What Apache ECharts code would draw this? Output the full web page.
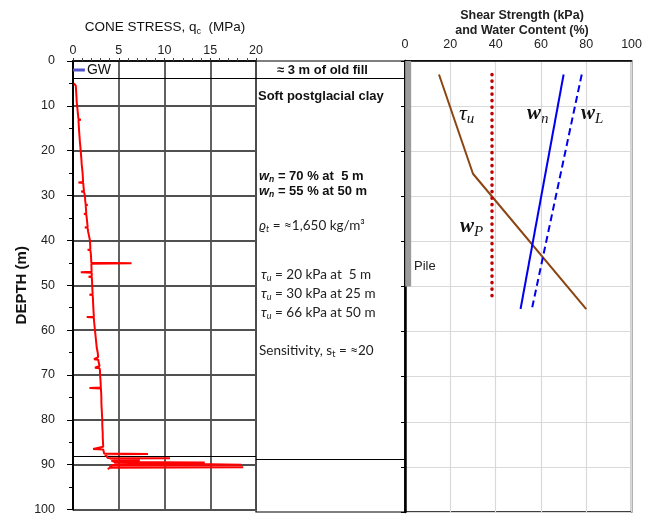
<!DOCTYPE html>
<html><head><meta charset="utf-8">
<script src="https://cdn.jsdelivr.net/npm/echarts@6/dist/echarts.min.js"></script>
<style>html,body{margin:0;padding:0;background:#fff}#c{width:645px;height:516px}</style>
</head><body><div id="c"></div>
<script>
// ---- Cone stress profile (depth m, qc MPa) ----
const cptDepth = [5.0,5.5,6,7,8,9,10,11,12,13,13.1,13.2,14,15,16,17,18,19,20,21,22,23,24,25,26,27,27.1,27.2,28,29,29.1,29.2,30,31,32,32.1,32.2,33,34,34.1,34.2,35,36,37,37.1,37.2,38,39,40,41,42,42.1,42.2,43,44,45,45.1,45.2,46,47,47.1,47.2,48,48.1,48.2,49,50,51,52,52.1,52.2,53,54,55,56,57,57.1,57.2,58,59,60,61,62,63,64,65,66,66.5,66.6,67,68,68.4,68.5,69,70,71,72,72.8,72.9,73.0,74,75,76,77,78,79,80,81,82,83,84,85,86,86.4,86.5,86.6,87,87.5,87.6,87.7,88,88.5,88.6,88.7,88.9,89.0,89.1,89.4,89.5,89.6,89.9,90.0,90.1,90.5,90.6,90.7,91];
const cptQc    = [0.1,0.3,0.32,0.35,0.38,0.4,0.45,0.5,0.55,0.6,0.85,0.6,0.62,0.65,0.68,0.72,0.75,0.8,0.84,0.88,0.92,0.95,1.0,1.05,1.08,1.1,0.6,1.12,1.15,1.2,0.9,1.2,1.3,1.33,1.38,1.6,1.38,1.42,1.45,1.2,1.45,1.5,1.55,1.6,1.3,1.6,1.65,1.75,1.85,1.88,1.9,1.6,1.9,1.95,1.98,2.0,6.4,2.0,2.02,2.03,0.85,2.05,2.05,1.7,2.05,2.08,2.1,2.12,2.15,1.8,2.15,2.18,2.2,2.22,2.25,2.28,1.5,2.28,2.3,2.35,2.4,2.45,2.5,2.55,2.6,2.7,2.75,2.3,2.75,2.8,2.9,2.4,2.9,2.95,2.95,3.0,3.02,3.05,1.8,3.05,3.08,3.1,3.1,3.12,3.15,3.17,3.2,3.2,3.22,3.25,3.25,3.28,3.3,3.3,2.2,3.3,3.35,3.4,8.2,3.5,3.6,3.8,10.6,4.0,4.0,7.3,4.2,4.5,14.4,4.5,4.5,18.4,4.3,4.0,18.6,4.0,3.8];
const gwDepth = 2;
const gwQc = [0, 1.3];
const layerBoundaries = [3.8, 88.2];

// ---- Shear strength & water content profiles ----
const tauDepth = [3, 25, 55];
const tauVal   = [15, 30, 80];
const wnDepth  = [3, 55];
const wnVal    = [70, 51];
const wLDepth  = [3, 55];
const wLVal    = [78, 56];
const wPDepth  = [3, 53.3];
const wPVal    = [38.4, 38.4];
const pileDepth = [0, 50];
const pileX = 1.4;

// ---- axis ticks ----
const qcRange = [0, 20], qcStep = 5;
const swRange = [0, 100], swStep = 20;
const depthRange = [0, 100], depthStep = 10;

const chart = echarts.init(document.getElementById('c'));
const pair = (xs, ys) => xs.map((x, i) => [x, ys[i]]);

const TOP = 61, H = 451;
const mk = (vals) => ({
  symbol: 'none', silent: true, label: {show: false},
  lineStyle: {color: '#000', width: 1, type: 'solid'},
  data: vals.map(v => ({yAxis: v}))
});

function txt(x, y, text, rich, extra) {
  return Object.assign({
    type: 'text', x: x, y: y, silent: true,
    style: Object.assign({text: text, rich: rich || {}, fill: '#222', fontSize: 12,
      fontFamily: 'Liberation Sans, Arial', textVerticalAlign: 'middle'}, extra || {})
  });
}
const bold = {fontFamily: 'Liberation Sans', fontWeight: 'bold', fontSize: 13, fill: '#111', lineHeight: 16, verticalAlign: 'middle'};
const boldIt = {fontFamily: 'Liberation Sans', fontWeight: 'bold', fontStyle: 'italic', fontSize: 13, fill: '#111', lineHeight: 16, verticalAlign: 'middle'};
const subB = {fontFamily: 'Liberation Sans', fontWeight: 'bold', fontStyle: 'italic', fontSize: 8.5, fill: '#111', lineHeight: 16, verticalAlign: 'bottom'};
const reg = {fontFamily: 'Lato, DejaVu Sans', fontSize: 13.5, fill: '#222', lineHeight: 16, verticalAlign: 'middle'};
const regIt = {fontFamily: 'Lato, DejaVu Sans', fontStyle: 'italic', fontSize: 13.5, fill: '#222', lineHeight: 16, verticalAlign: 'middle'};
const subR = {fontFamily: 'Lato, DejaVu Sans', fontStyle: 'italic', fontSize: 9, fill: '#222', lineHeight: 16, verticalAlign: 'bottom'};
const subRn = {fontFamily: 'Lato, DejaVu Sans', fontSize: 9, fill: '#222', lineHeight: 16, verticalAlign: 'bottom'};

const serifBig = {fontFamily: 'Liberation Serif, DejaVu Serif', fontStyle: 'italic', fontSize: 22, fill: '#111', lineHeight: 26, verticalAlign: 'middle'};
const serifW = {fontFamily: 'Liberation Serif, DejaVu Serif', fontStyle: 'italic', fontWeight: 'bold', fontSize: 21, fill: '#111', lineHeight: 26, verticalAlign: 'middle'};
const serifSub = {fontFamily: 'Liberation Serif, DejaVu Serif', fontStyle: 'italic', fontSize: 15, fill: '#111', lineHeight: 26, verticalAlign: 'bottom'};

const option = {
  backgroundColor: '#fff',
  animation: false,
  grid: [
    {left: 73, top: TOP, width: 183, height: H, show: true, borderColor: '#000', borderWidth: 1.2, backgroundColor: 'transparent'},
    {left: 256, top: TOP, width: 149, height: H, show: true, borderColor: '#000', borderWidth: 1.2, backgroundColor: 'transparent'},
    {left: 405, top: TOP, width: 229, height: H, show: true, borderColor: '#000', borderWidth: 1.5, backgroundColor: 'transparent'}
  ],
  xAxis: [
    {gridIndex: 0, type: 'value', position: 'top', min: qcRange[0], max: qcRange[1], interval: qcStep,
     axisLine: {show: true, lineStyle: {color: '#000', width: 1.5}},
     axisTick: {show: true, length: 3, inside: false, lineStyle: {color: '#333'}},
     minorTick: {show: true, splitNumber: 5, length: 3, lineStyle: {color: '#444'}},
     axisLabel: {fontSize: 12.5, color: '#222', margin: 4, fontFamily: 'Liberation Sans, Arial'},
     splitLine: {show: true, lineStyle: {color: '#505050', width: 1.8}}},
    {gridIndex: 1, type: 'value', min: 0, max: 1, show: false},
    {gridIndex: 2, type: 'value', position: 'top', min: swRange[0], max: swRange[1], interval: swStep,
     axisLine: {show: true, lineStyle: {color: '#000', width: 1.5}},
     axisTick: {show: false},
     axisLabel: {fontSize: 12.5, color: '#222', margin: 10, fontFamily: 'Liberation Sans, Arial'},
     splitLine: {show: true, lineStyle: {color: '#d9d9d9', width: 1.2}}}
  ],
  yAxis: [
    {gridIndex: 0, type: 'value', inverse: true, min: depthRange[0], max: depthRange[1], interval: depthStep,
     name: 'DEPTH (m)', nameLocation: 'middle', nameRotate: 90, nameGap: 44,
     nameTextStyle: {fontSize: 15, fontWeight: 'bold', color: '#111', fontFamily: 'Liberation Sans, Arial'},
     axisLine: {show: true, lineStyle: {color: '#000', width: 2}},
     axisTick: {show: true, length: 6, lineStyle: {color: '#000'}},
     minorTick: {show: true, splitNumber: 2, length: 4, lineStyle: {color: '#000'}},
     axisLabel: {fontSize: 12.5, color: '#222', margin: 18, fontFamily: 'Liberation Sans, Arial'},
     splitLine: {show: true, lineStyle: {color: '#505050', width: 1.8}}},
    {gridIndex: 1, type: 'value', inverse: true, min: depthRange[0], max: depthRange[1], show: false},
    {gridIndex: 2, type: 'value', inverse: true, min: depthRange[0], max: depthRange[1], interval: depthStep,
     axisLine: {show: true, lineStyle: {color: '#000', width: 2.5}},
     axisTick: {show: true, length: 4, lineStyle: {color: '#000'}},
     axisLabel: {show: false},
     splitLine: {show: true, lineStyle: {color: '#d9d9d9', width: 1.2}}}
  ],
  series: [
    {type: 'line', xAxisIndex: 0, yAxisIndex: 0, showSymbol: false, symbol: 'none',
     data: pair(cptQc, cptDepth), lineStyle: {color: '#ff0000', width: 2}, z: 5,
     markLine: mk(layerBoundaries)},
    {type: 'line', xAxisIndex: 0, yAxisIndex: 0, symbol: 'none',
     data: gwQc.map(q => [q, gwDepth]), lineStyle: {color: '#5050c8', width: 3}, z: 6,
     endLabel: {show: true, formatter: 'GW', fontSize: 14, color: '#111', distance: 2, fontFamily: 'Liberation Sans, Arial'}},
    {type: 'line', xAxisIndex: 1, yAxisIndex: 1, symbol: 'none', data: [[0, 0]],
     lineStyle: {opacity: 0}, markLine: mk(layerBoundaries)},
    {type: 'line', xAxisIndex: 2, yAxisIndex: 2, symbol: 'none',
     data: pileDepth.map(d => [pileX, d]), lineStyle: {color: '#9c9c9c', width: 6, cap: 'butt'}, z: 4},
    {type: 'line', xAxisIndex: 2, yAxisIndex: 2, symbol: 'none',
     data: pair(tauVal, tauDepth), lineStyle: {color: '#8b4513', width: 2}},
    {type: 'line', xAxisIndex: 2, yAxisIndex: 2, symbol: 'none',
     data: pair(wPVal, wPDepth), lineStyle: {color: '#c00000', width: 3.5, type: [0.1, 6.4], cap: 'round'}},
    {type: 'line', xAxisIndex: 2, yAxisIndex: 2, symbol: 'none',
     data: pair(wnVal, wnDepth), lineStyle: {color: '#0000ee', width: 2}},
    {type: 'line', xAxisIndex: 2, yAxisIndex: 2, symbol: 'none',
     data: pair(wLVal, wLDepth), lineStyle: {color: '#0000ee', width: 2, type: [7, 4]}}
  ],
  graphic: [
    txt(165, 27, '{a|CONE STRESS, q}{s|c}{a|  (MPa)}', {
      a: {fontFamily: 'Liberation Sans, Arial', fontSize: 13.5, fill: '#111', lineHeight: 18, verticalAlign: 'middle'},
      s: {fontFamily: 'Liberation Sans, Arial', fontSize: 9, fill: '#111', lineHeight: 18, verticalAlign: 'bottom'}
    }, {textAlign: 'center'}),
    txt(522, 16, 'Shear Strength (kPa)', null, {textAlign: 'center', fontWeight: 'bold', fontSize: 12.5, fill: '#222'}),
    txt(522, 31, 'and Water Content (%)', null, {textAlign: 'center', fontWeight: 'bold', fontSize: 12.5, fill: '#222'}),
    // middle column annotations
    txt(277, 70, '{b|≈ 3 m of old fill}', {b: bold}),
    txt(258, 96, '{b|Soft postglacial clay}', {b: bold}),
    txt(259, 176, '{w|w}{s|n}{b| = 70 % at  5 m}', {w: boldIt, s: subB, b: bold}),
    txt(259, 191, '{w|w}{s|n}{b| = 55 % at 50 m}', {w: boldIt, s: subB, b: bold}),
    txt(259, 226, '{w|ϱ}{s|t}{b| = ≈1,650 kg/m³}', {w: regIt, s: subR, b: reg}),
    txt(261, 275, '{w|τ}{s|u}{b| = 20 kPa at  5 m}', {w: regIt, s: subR, b: reg}),
    txt(261, 294, '{w|τ}{s|u}{b| = 30 kPa at 25 m}', {w: regIt, s: subR, b: reg}),
    txt(261, 313, '{w|τ}{s|u}{b| = 66 kPa at 50 m}', {w: regIt, s: subR, b: reg}),
    txt(259, 351, '{b|Sensitivity, s}{s|t}{b| = ≈20}', {s: subRn, b: reg}),
    // right panel labels
    txt(459, 114, '{a|τ}{s|u}', {a: serifBig, s: serifSub}),
    txt(527, 114, '{a|w}{s|n}', {a: serifW, s: serifSub}),
    txt(581, 114, '{a|w}{s|L}', {a: serifW, s: serifSub}),
    txt(460, 227, '{a|w}{s|P}', {a: serifW, s: serifSub}),
    txt(414, 266, 'Pile', null, {fontSize: 13, fill: '#222'})
  ]
};
chart.setOption(option);
</script>
</body></html>
